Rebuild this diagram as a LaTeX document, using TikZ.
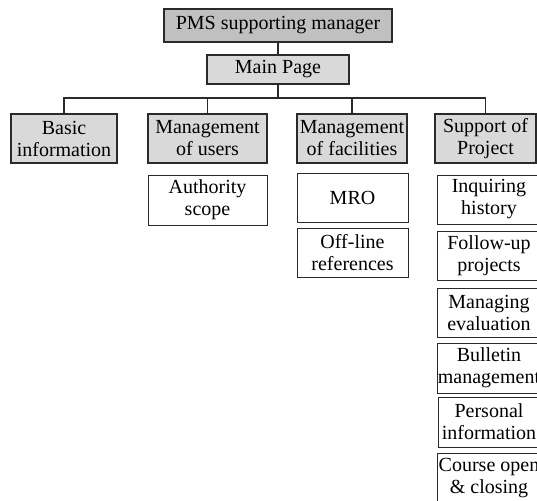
\documentclass[tikz,border=0pt]{standalone}
\usepackage{fontspec}
\setmainfont{Liberation Serif}
\definecolor{darkfill}{HTML}{C0C0C0}
\definecolor{lightfill}{HTML}{D9D9D9}
\definecolor{edge}{HTML}{2A2A2A}
\begin{document}
\begin{tikzpicture}[x=1pt,y=-1pt,
  box/.style={draw=edge,rectangle,inner sep=0pt,align=center,
    font=\fontsize{20}{22}\selectfont,text=black},
  topbox/.style={box,fill=darkfill,line width=1.5pt},
  graybox/.style={box,fill=lightfill,line width=1.5pt},
  whitebox/.style={box,fill=white,line width=1pt},
  link/.style={draw=edge,line width=1.4pt}]
\useasboundingbox (0,0) rectangle (537,500);
\clip (0,0) rectangle (537,500);
\node[topbox,minimum width=228pt,minimum height=33pt] (pms) at (278,25.5) {PMS supporting manager};
\node[graybox,minimum width=142pt,minimum height=29pt] (main) at (278,69.5) {Main Page};
\node[graybox,minimum width=106pt,minimum height=49pt] (basic) at (64,138.5) {Basic\\information};
\node[graybox,minimum width=119pt,minimum height=49pt] (users) at (207.5,138.5) {Management\\of users};
\node[graybox,minimum width=110pt,minimum height=49pt] (fac) at (352,138.5) {Management\\of facilities};
\node[graybox,minimum width=101pt,minimum height=49pt] (sup) at (485.5,138.5) {Support of\\Project};
\node[whitebox,minimum width=119pt,minimum height=50pt] (auth) at (207.5,200) {Authority\\scope};
\node[whitebox,minimum width=111pt,minimum height=49pt] (mro) at (352.5,197.5) {MRO};
\node[whitebox,minimum width=111pt,minimum height=49pt] (off) at (352.5,252.5) {Off-line\\references};
\node[whitebox,minimum width=104pt,minimum height=49pt] (inq) at (489,199.5) {Inquiring\\history};
\node[whitebox,minimum width=104pt,minimum height=49pt] (fol) at (489,255.5) {Follow-up\\projects};
\node[whitebox,minimum width=104pt,minimum height=49pt] (eva) at (489,312.5) {Managing\\evaluation};
\node[whitebox,minimum width=104pt,minimum height=50pt] (bul) at (489,368) {Bulletin\\management};
\node[whitebox,minimum width=102pt,minimum height=50pt] (per) at (489,422) {Personal\\information};
\node[whitebox,minimum width=104pt,minimum height=50pt] (cou) at (489,478) {Course open\\\& closing};
\coordinate (bus) at (0,98);
\draw[link] (pms.south) -- (main.north);
\draw[link] (main.south) -- (main.south |- bus);
\draw[link] (basic.north) -- (basic.north |- bus) -- (sup.north |- bus) -- (sup.north);
\draw[link] (users.north) -- (users.north |- bus);
\draw[link] (fac.north) -- (fac.north |- bus);
\end{tikzpicture}
\end{document}
